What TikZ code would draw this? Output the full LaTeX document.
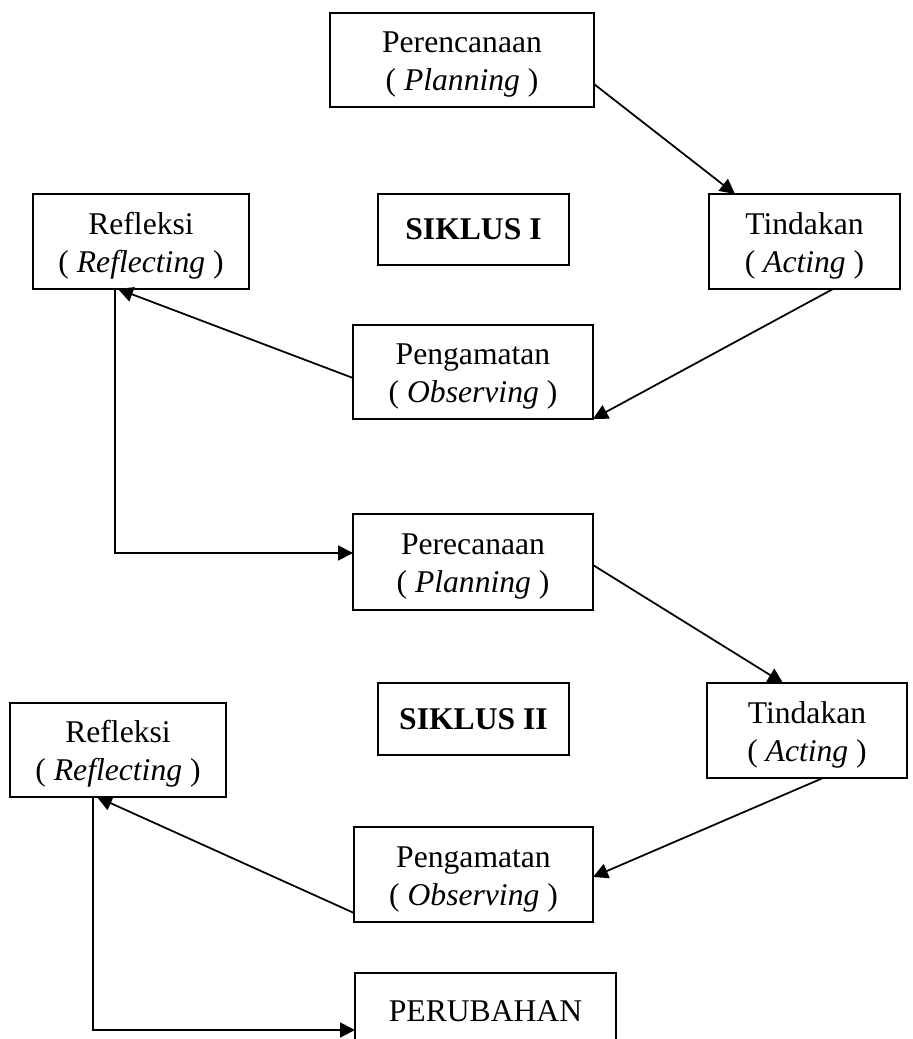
\documentclass[tikz,border=0pt]{standalone}
\usepackage{fontspec}
\setmainfont{Liberation Serif}
\usetikzlibrary{arrows.meta}
\newcommand\duo[2]{\raisebox{-0.08cm}[\height][\depth]{\begin{tabular}{@{}c@{}}#1\\#2\end{tabular}}}
\begin{document}
\begin{tikzpicture}[x=0.02cm,y=-0.02cm,
  box/.style={draw, line width=1pt, outer sep=0pt, inner sep=0pt, align=center, font=\fontsize{18}{21.8}\selectfont},
  conn/.style={line width=1pt, -{Triangle[length=0.3cm,width=0.3cm]}}]
\useasboundingbox (0,0) rectangle (913,1039);
\clip (0,0) rectangle (913,1039);
% cycle I
\node[box, minimum width=5.28cm, minimum height=1.88cm] (p1) at (462,60) {\duo{Perencanaan}{( \textit{Planning} )}};
\node[box, minimum width=4.32cm, minimum height=1.9cm] (r1) at (141,241.5) {\duo{Refleksi}{( \textit{Reflecting} )}};
\node[box, minimum width=3.82cm, minimum height=1.42cm] (s1) at (473.5,229.5) {\textbf{SIKLUS I}};
\node[box, minimum width=3.82cm, minimum height=1.9cm] (t1) at (804.5,241.5) {\duo{Tindakan}{( \textit{Acting} )}};
\node[box, minimum width=4.8cm, minimum height=1.88cm] (o1) at (473,372) {\duo{Pengamatan}{( \textit{Observing} )}};
% cycle II
\node[box, minimum width=4.8cm, minimum height=1.92cm] (p2) at (473,562) {\duo{Perecanaan}{( \textit{Planning} )}};
\node[box, minimum width=3.82cm, minimum height=1.44cm] (s2) at (473.5,719) {\textbf{SIKLUS II}};
\node[box, minimum width=4.0cm, minimum height=1.9cm] (t2) at (807,730.5) {\duo{Tindakan}{( \textit{Acting} )}};
\node[box, minimum width=4.32cm, minimum height=1.88cm] (r2) at (118,750) {\duo{Refleksi}{( \textit{Reflecting} )}};
\node[box, minimum width=4.78cm, minimum height=1.9cm] (o2) at (473.5,874.5) {\duo{Pengamatan}{( \textit{Observing} )}};
\node[box, minimum width=5.22cm, text height=0.96cm, text depth=1.2cm, anchor=north] (pr) at (485.5,973) {PERUBAHAN};
% bends
\coordinate (b1) at (115,553);
\coordinate (b2) at (93,1030);
% connectors
\draw[conn] (p1.east |- 0,84) -- (t1.north -| 735,0);
\draw[conn] (t1.south -| 833,0) -- (o1.south east);
\draw[conn] (o1.west |- 0,378) -- (r1.south -| 118,0);
\draw[conn] (r1.south -| b1) -- (b1) -- (p2.west |- b1);
\draw[conn] (p2.east |- 0,565) -- (t2.north -| 783,0);
\draw[conn] (t2.south -| 823,0) -- (o2.east |- 0,877);
\draw[conn] (o2.west |- 0,913) -- (r2.south -| 97,0);
\draw[conn] (r2.south -| b2) -- (b2) -- (pr.west |- b2);
\end{tikzpicture}
\end{document}
